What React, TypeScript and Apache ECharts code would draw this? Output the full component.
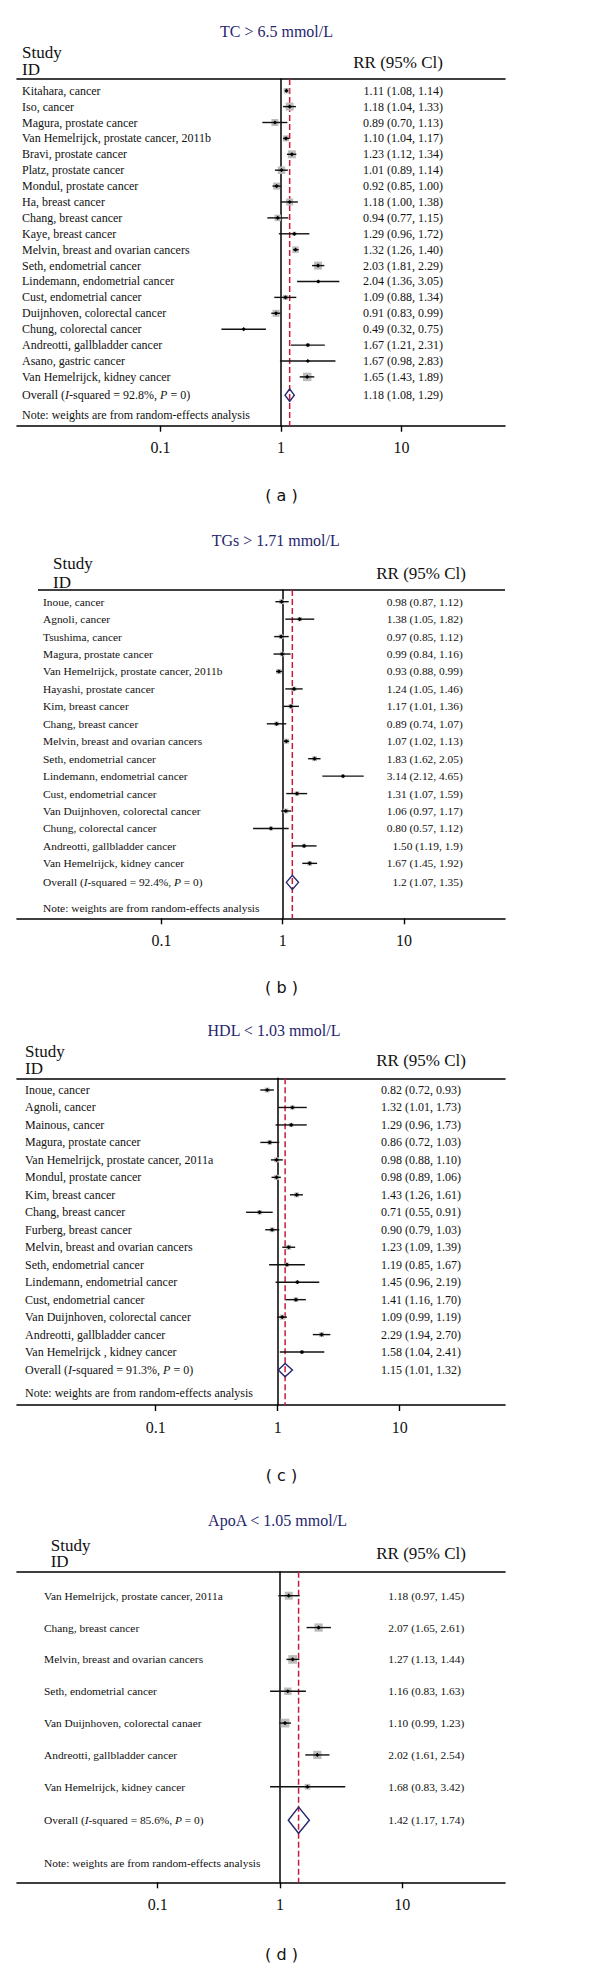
import React, { useEffect, useRef } from 'react';
import * as echarts from 'echarts';

const FONT = "'Liberation Serif', 'Times New Roman', serif";
const SANS = "'DejaVu Sans', sans-serif";
const NAVY = '#26266e';
const RED = '#c8193c';

const tickValues = [0.1, 1, 10];
const tickLabels = ['0.1', '1', '10'];
const noteText = 'Note: weights are from random-effects analysis';

// ---------- (a) TC ----------
const titleA = 'TC > 6.5 mmol/L';
const studiesA = [
  'Kitahara, cancer', 'Iso, cancer', 'Magura, prostate cancer', 'Van Hemelrijck, prostate cancer, 2011b',
  'Bravi, prostate cancer', 'Platz, prostate cancer', 'Mondul, prostate cancer', 'Ha, breast cancer',
  'Chang, breast cancer', 'Kaye, breast cancer', 'Melvin, breast and ovarian cancers', 'Seth, endometrial cancer',
  'Lindemann, endometrial cancer', 'Cust, endometrial cancer', 'Duijnhoven, colorectal cancer', 'Chung, colorectal cancer',
  'Andreotti, gallbladder cancer', 'Asano, gastric cancer', 'Van Hemelrijck, kidney cancer',
];
const rrA = ['1.11', '1.18', '0.89', '1.10', '1.23', '1.01', '0.92', '1.18', '0.94', '1.29', '1.32', '2.03', '2.04', '1.09', '0.91', '0.49', '1.67', '1.67', '1.65'];
const loA = ['1.08', '1.04', '0.70', '1.04', '1.12', '0.89', '0.85', '1.00', '0.77', '0.96', '1.26', '1.81', '1.36', '0.88', '0.83', '0.32', '1.21', '0.98', '1.43'];
const hiA = ['1.14', '1.33', '1.13', '1.17', '1.34', '1.14', '1.00', '1.38', '1.15', '1.72', '1.40', '2.29', '3.05', '1.34', '0.99', '0.75', '2.31', '2.83', '1.89'];
const weightsA = [4.1, 8.6, 6.6, 4.9, 8.6, 7.6, 6.6, 6.6, 5.7, 2.2, 5.7, 8.6, 1.2, 3.4, 6.6, 0.5, 2.2, 0.5, 9.7];
const overallA = ['1.18', '1.08', '1.29'];
const isqA = '92.8%';

// ---------- (b) TGs ----------
const titleB = 'TGs > 1.71 mmol/L';
const studiesB = [
  'Inoue, cancer', 'Agnoli, cancer', 'Tsushima, cancer', 'Magura, prostate cancer',
  'Van Hemelrijck, prostate cancer, 2011b', 'Hayashi, prostate cancer', 'Kim, breast cancer', 'Chang, breast cancer',
  'Melvin, breast and ovarian cancers', 'Seth, endometrial cancer', 'Lindemann, endometrial cancer', 'Cust, endometrial cancer',
  'Van Duijnhoven, colorectal cancer', 'Chung, colorectal cancer', 'Andreotti, gallbladder cancer', 'Van Hemelrijck, kidney cancer',
];
const rrB = ['0.98', '1.38', '0.97', '0.99', '0.93', '1.24', '1.17', '0.89', '1.07', '1.83', '3.14', '1.31', '1.06', '0.80', '1.50', '1.67'];
const loB = ['0.87', '1.05', '0.85', '0.84', '0.88', '1.05', '1.01', '0.74', '1.02', '1.62', '2.12', '1.07', '0.97', '0.57', '1.19', '1.45'];
const hiB = ['1.12', '1.82', '1.12', '1.16', '0.99', '1.46', '1.36', '1.07', '1.13', '2.05', '4.65', '1.59', '1.17', '1.12', '1.9', '1.92'];
const weightsB = [6.5, 5.0, 6.3, 6.0, 7.2, 6.0, 6.2, 5.8, 7.3, 6.6, 3.4, 5.5, 6.8, 4.2, 5.2, 6.4];
const overallB = ['1.2', '1.07', '1.35'];
const isqB = '92.4%';

// ---------- (c) HDL ----------
const titleC = 'HDL < 1.03 mmol/L';
const studiesC = [
  'Inoue, cancer', 'Agnoli, cancer', 'Mainous, cancer', 'Magura, prostate cancer',
  'Van Hemelrijck, prostate cancer, 2011a', 'Mondul, prostate cancer', 'Kim, breast cancer', 'Chang, breast cancer',
  'Furberg, breast cancer', 'Melvin, breast and ovarian cancers', 'Seth, endometrial cancer', 'Lindemann, endometrial cancer',
  'Cust, endometrial cancer', 'Van Duijnhoven, colorectal cancer', 'Andreotti, gallbladder cancer', 'Van Hemelrijck , kidney cancer',
];
const rrC = ['0.82', '1.32', '1.29', '0.86', '0.98', '0.98', '1.43', '0.71', '0.90', '1.23', '1.19', '1.45', '1.41', '1.09', '2.29', '1.58'];
const loC = ['0.72', '1.01', '0.96', '0.72', '0.88', '0.89', '1.26', '0.55', '0.79', '1.09', '0.85', '0.96', '1.16', '0.99', '1.94', '1.04'];
const hiC = ['0.93', '1.73', '1.73', '1.03', '1.10', '1.06', '1.61', '0.91', '1.03', '1.39', '1.67', '2.19', '1.70', '1.19', '2.70', '2.41'];
const weightsC = [6.8, 5.2, 5.0, 6.0, 7.0, 7.2, 6.7, 5.5, 6.5, 6.8, 4.6, 3.8, 6.0, 7.2, 6.4, 3.9];
const overallC = ['1.15', '1.01', '1.32'];
const isqC = '91.3%';

// ---------- (d) ApoA ----------
const titleD = 'ApoA < 1.05 mmol/L';
const studiesD = [
  'Van Hemelrijck, prostate cancer, 2011a', 'Chang, breast cancer', 'Melvin, breast and ovarian cancers',
  'Seth, endometrial cancer', 'Van Duijnhoven, colorectal canaer', 'Andreotti, gallbladder cancer', 'Van Hemelrijck, kidney cancer',
];
const rrD = ['1.18', '2.07', '1.27', '1.16', '1.10', '2.02', '1.68'];
const loD = ['0.97', '1.65', '1.13', '0.83', '0.99', '1.61', '0.83'];
const hiD = ['1.45', '2.61', '1.44', '1.63', '1.23', '2.54', '3.42'];
const weightsD = [14.5, 15.5, 17.0, 12.5, 17.5, 15.5, 7.5];
const overallD = ['1.42', '1.17', '1.74'];
const isqD = '85.6%';

const panels = [
  { label: '( a )', title: titleA, studies: studiesA, rr: rrA, lo: loA, hi: hiA, w: weightsA, overall: overallA, isq: isqA },
  { label: '( b )', title: titleB, studies: studiesB, rr: rrB, lo: loB, hi: hiB, w: weightsB, overall: overallB, isq: isqB },
  { label: '( c )', title: titleC, studies: studiesC, rr: rrC, lo: loC, hi: hiC, w: weightsC, overall: overallC, isq: isqC },
  { label: '( d )', title: titleD, studies: studiesD, rr: rrD, lo: loD, hi: hiD, w: weightsD, overall: overallD, isq: isqD },
];

// layout (pixels / axis ranges) kept apart from data
const layouts = [
  { top: 79, bottom: 425.7, xMin: -2.191, xMax: 1.859, yMin: -0.736, yMax: 21.07, overallY: 19.15, noteY: 20.41,
    textX: 22, rrX: 443, font: 12, box: 2.72, dHalf: 0.39, titleX: 276.5, titleY: 31, studyX: 22, studyY: 52, idY: 69,
    rrHeadX: 443, rrHeadY: 62, labelY: 495, topLineX1: 0 },
  { top: 590, bottom: 918.3, xMin: -2.19, xMax: 1.832, yMin: -0.671, yMax: 18.15, overallY: 16.09, noteY: 17.58,
    textX: 43, rrX: 462.7, font: 11.4, box: 1.9, dHalf: 0.4, titleX: 275.7, titleY: 540, studyX: 53, studyY: 563, idY: 582,
    rrHeadX: 466, rrHeadY: 573, labelY: 987, topLineX1: 38 },
  { top: 1078.3, bottom: 1405, xMin: -2.137, xMax: 1.863, yMin: -0.67, yMax: 18.03, overallY: 16.03, noteY: 17.36,
    textX: 25, rrX: 461, font: 12, box: 1.9, dHalf: 0.38, titleX: 274, titleY: 1030, studyX: 25, studyY: 1051.7, idY: 1068,
    rrHeadX: 466, rrHeadY: 1060, labelY: 1475, topLineX1: 0 },
  { top: 1571.7, bottom: 1882.3, xMin: -2.15, xMax: 1.84, yMin: -0.754, yMax: 9.0, overallY: 7.05, noteY: 8.38,
    textX: 44, rrX: 464.3, font: 11.4, box: 2.1, dHalf: 0.41, titleX: 277.5, titleY: 1520, studyX: 50.7, studyY: 1545, idY: 1561.7,
    rrHeadX: 466, rrHeadY: 1553, labelY: 1954, topLineX1: 0 },
];

const tickLogs = tickValues.map((v) => Math.log10(v));
const fmtTick = (v: number) => {
  const i = tickLogs.findIndex((t) => Math.abs(t - v) < 1e-6);
  return i >= 0 ? tickLabels[i] : '';
};

function txt(x: number, y: number, text: string, size: number, align: string, fill = '#111', family = FONT, extra: any = {}) {
  return {
    type: 'text',
    x,
    y,
    silent: true,
    style: {
      legacy: false,
      text,
      fill,
      fontSize: size,
      fontFamily: family,
      align,
      verticalAlign: 'middle',
      ...extra,
    },
  };
}

function makeRender(pd: any, ly: any) {
  return (params: any, api: any) => {
    const kind = api.value(5);
    const yv = api.value(1);
    const c = api.coord([api.value(0), yv]);
    const ty = c[1];
    const children: any[] = [];
    const idx = params.dataIndex;
    if (kind === 2) {
      children.push(txt(ly.textX, ty, noteText, ly.font, 'left'));
      return { type: 'group', children };
    }
    const l = api.coord([api.value(2), yv]);
    const h = api.coord([api.value(3), yv]);
    if (kind === 0) {
      const s = ly.box * Math.sqrt(api.value(4));
      children.push({ type: 'rect', shape: { x: c[0] - s / 2, y: ty - s / 2, width: s, height: s }, style: { fill: '#bcbcbc' } });
      children.push({ type: 'line', shape: { x1: l[0], y1: ty, x2: h[0], y2: ty }, style: { stroke: '#111', lineWidth: 1.4 } });
      const d = 2.1;
      children.push({ type: 'polygon', shape: { points: [[c[0] - d, ty], [c[0], ty - d], [c[0] + d, ty], [c[0], ty + d]] }, style: { fill: '#000' } });
      children.push(txt(ly.textX, ty, pd.studies[idx], ly.font, 'left'));
      children.push(txt(ly.rrX, ty, `${pd.rr[idx]} (${pd.lo[idx]}, ${pd.hi[idx]})`, ly.font, 'right'));
    } else {
      const hh = Math.abs(api.size([0, ly.dHalf])[1]);
      children.push({
        type: 'polygon',
        shape: { points: [[l[0], ty], [c[0], ty - hh], [h[0], ty], [c[0], ty + hh]] },
        style: { fill: 'none', stroke: NAVY, lineWidth: 1.4 },
      });
      children.push(
        txt(ly.textX, ty, `Overall ({i|I}-squared = ${pd.isq}, {i|P} = 0)`, ly.font, 'left', '#111', FONT, {
          rich: { i: { fontStyle: 'italic', fontSize: ly.font, fontFamily: FONT, fill: '#111' } },
        })
      );
      children.push(txt(ly.rrX, ty, `${pd.overall[0]} (${pd.overall[1]}, ${pd.overall[2]})`, ly.font, 'right'));
    }
    return { type: 'group', children };
  };
}

function buildOption() {
  const grid: any[] = [];
  const xAxis: any[] = [];
  const yAxis: any[] = [];
  const series: any[] = [];
  const graphic: any[] = [];
  panels.forEach((pd, k) => {
    const ly = layouts[k];
    grid.push({ left: 17, width: 488, top: ly.top, height: ly.bottom - ly.top });
    const axLine = { color: '#000', width: 1.6 };
    xAxis.push({
      gridIndex: k, type: 'value', position: 'bottom', min: ly.xMin, max: ly.xMax,
      axisLine: { show: true, onZero: false, lineStyle: axLine },
      axisTick: { show: true, customValues: tickLogs, length: 6, lineStyle: { color: '#000', width: 1.4 } },
      axisLabel: { show: true, customValues: tickLogs, formatter: fmtTick, margin: 14, color: '#111', fontSize: 16, fontFamily: FONT },
      splitLine: { show: false },
    });
    xAxis.push({
      gridIndex: k, type: 'value', position: 'top', min: ly.xMin, max: ly.xMax,
      axisLine: { show: !ly.topLineX1, onZero: false, lineStyle: axLine },
      axisTick: { show: false }, axisLabel: { show: false }, splitLine: { show: false },
    });
    yAxis.push({
      gridIndex: k, type: 'value', inverse: true, min: ly.yMin, max: ly.yMax,
      axisLine: { show: true, onZero: true, lineStyle: { color: '#000', width: 1.5 } },
      axisTick: { show: false }, axisLabel: { show: false }, splitLine: { show: false },
    });
    const data: any[] = [];
    pd.studies.forEach((_s, i) => {
      data.push([Math.log10(+pd.rr[i]), i, Math.log10(+pd.lo[i]), Math.log10(+pd.hi[i]), pd.w[i], 0]);
    });
    const ov = Math.log10(+pd.overall[0]);
    data.push([ov, ly.overallY, Math.log10(+pd.overall[1]), Math.log10(+pd.overall[2]), 0, 1]);
    data.push([0, ly.noteY, 0, 0, 0, 2]);
    series.push({
      type: 'custom', xAxisIndex: 2 * k, yAxisIndex: k, data, encode: { x: 0, y: 1 },
      renderItem: makeRender(pd, ly), silent: true, z: 4,
    });
    series.push({
      type: 'line', xAxisIndex: 2 * k, yAxisIndex: k, data: [[ov, ly.yMin], [ov, ly.yMax]],
      symbol: 'none', silent: true, z: 3,
      lineStyle: { color: RED, width: 1.5, type: [6, 3] },
    });
    graphic.push(txt(ly.titleX, ly.titleY, pd.title, 16, 'center', NAVY));
    graphic.push(txt(ly.studyX, ly.studyY, 'Study', 17, 'left'));
    graphic.push(txt(ly.studyX, ly.idY, 'ID', 17, 'left'));
    graphic.push(txt(ly.rrHeadX, ly.rrHeadY, 'RR (95% Cl)', 17, 'right'));
    graphic.push(txt(281.5, ly.labelY, pd.label, 16, 'center', '#111', SANS));
    if (ly.topLineX1) {
      graphic.push({
        type: 'line', silent: true,
        shape: { x1: ly.topLineX1, y1: ly.top, x2: 505, y2: ly.top },
        style: { stroke: '#000', lineWidth: 1.6 },
      });
    }
  });
  return { animation: false, backgroundColor: '#fff', grid, xAxis, yAxis, series, graphic };
}

export default function App() {
  const ref = useRef<HTMLDivElement>(null);
  useEffect(() => {
    const chart = echarts.init(ref.current as HTMLDivElement, undefined, { renderer: 'svg' });
    chart.setOption(buildOption() as any);
    return () => chart.dispose();
  }, []);
  return (
    <div
      ref={ref}
      style={{ position: 'absolute', left: 0, top: 0, width: 600, height: 1970, background: '#fff' }}
    />
  );
}
